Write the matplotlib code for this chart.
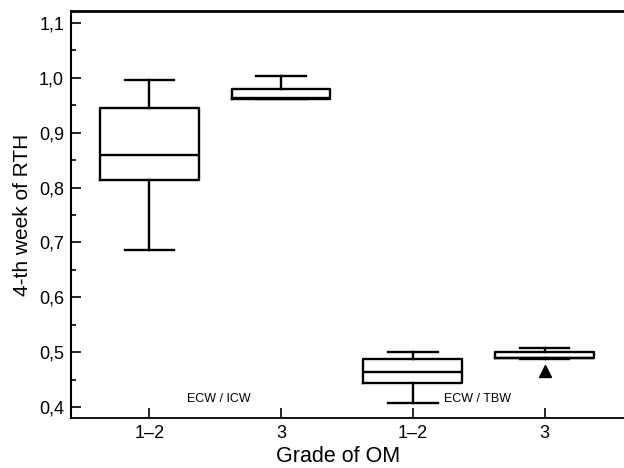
import matplotlib
matplotlib.use("Agg")
import matplotlib.pyplot as plt
import numpy as np

plt.rcParams['font.family'] = ['Liberation Sans', 'DejaVu Sans']

# box statistics
positions = [1, 2, 3, 4]
group_labels = ['1–2', '3', '1–2', '3']
whislo = [0.687, 0.962, 0.407, 0.488]
q1 = [0.813, 0.962, 0.443, 0.489]
med = [0.860, 0.963, 0.463, 0.489]
q3 = [0.946, 0.980, 0.487, 0.500]
whishi = [0.997, 1.004, 0.500, 0.507]
fliers = [[], [], [], [0.466]]

yticks = [0.4, 0.5, 0.6, 0.7, 0.8, 0.9, 1.0, 1.1]
ratio_labels = ['ECW / ICW', 'ECW / TBW']
ratio_x = [1.29, 3.24]

stats = []
for i in range(len(positions)):
    stats.append(dict(whislo=whislo[i], q1=q1[i], med=med[i], q3=q3[i],
                      whishi=whishi[i], fliers=fliers[i]))

fig = plt.figure(figsize=(6.24, 4.68), dpi=100)
ax = fig.add_axes([71 / 624, 1 - 418 / 468, 1 - 71 / 624 + 0.01, (418 - 11) / 468])

lw = 1.7
ax.bxp(stats, positions=positions, widths=0.75, showfliers=True,
       boxprops=dict(color='black', linewidth=lw),
       whiskerprops=dict(color='black', linewidth=lw),
       capprops=dict(color='black', linewidth=lw),
       medianprops=dict(color='black', linewidth=lw),
       flierprops=dict(marker='^', markerfacecolor='black', markeredgecolor='black',
                       markersize=8),
       capwidths=0.375)

ax.set_xlim(0.406, 4.65)
ax.set_ylim(0.38, 1.122)
ax.set_xticks(positions)
ax.set_xticklabels(group_labels)
ax.set_yticks(yticks)
ax.set_yticklabels([f"{v:.1f}".replace('.', ',') for v in yticks])
ax.set_yticks(np.arange(0.45, 1.1, 0.1), minor=True)

ax.tick_params(axis='both', which='major', direction='in', length=7, width=1.2,
               labelsize=13, pad=5)
ax.tick_params(axis='y', which='minor', direction='in', length=3.5, width=1.2)
ax.tick_params(top=False, right=False)

ax.spines['right'].set_visible(False)
ax.spines['top'].set_linewidth(2.0)
ax.spines['left'].set_linewidth(1.5)
ax.spines['bottom'].set_linewidth(1.3)

for x, t in zip(ratio_x, ratio_labels):
    ax.text(x, 0.415, t, fontsize=9, va='center', ha='left')

ax.set_xlabel('Grade of OM', fontsize=15.5)
ax.xaxis.set_label_coords(0.478, -0.068)
ax.set_ylabel('4-th week of RTH', fontsize=15, labelpad=5)

fig.savefig('out.png', dpi=100)
